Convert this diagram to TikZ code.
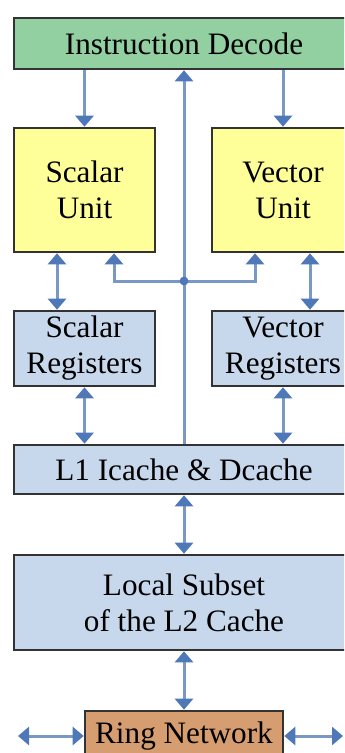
\documentclass[tikz,border=0pt]{standalone}
\usepackage{fontspec}
\setmainfont{Liberation Serif}
\usetikzlibrary{arrows.meta}
\definecolor{decode}{RGB}{146,208,162}
\definecolor{unitfill}{RGB}{255,255,153}
\definecolor{regfill}{RGB}{200,216,236}
\definecolor{ringfill}{RGB}{214,158,112}
\definecolor{wire}{RGB}{122,152,198}
\definecolor{tip}{RGB}{79,120,184}
\begin{document}
\begin{tikzpicture}[x=0.5pt,y=-0.5pt,
    box/.style={draw=black!80,line width=1.3pt,inner sep=0pt,align=center,
      font=\fontsize{15.6}{18}\selectfont},
    link/.style={draw=wire,line width=1.5pt},
    >={Triangle[width=9pt,length=5.5pt,color=tip]}]
  \useasboundingbox[fill=white] (0,0) rectangle (344,753);
  \clip (0,0) rectangle (344,753);
  \node[box,fill=decode,minimum width=170pt,minimum height=25.5pt] (dec) at (184,43.5) {Instruction Decode};
  \node[box,fill=unitfill,minimum width=70.5pt,minimum height=62pt] (su) at (84.5,190) {Scalar\\Unit};
  \node[box,fill=unitfill,minimum width=71pt,minimum height=62pt] (vu) at (283,190) {Vector\\Unit};
  \node[box,fill=regfill,minimum width=70.5pt,minimum height=37.5pt] (sr) at (84.5,348.5) {Scalar\\Registers};
  \node[box,fill=regfill,minimum width=71pt,minimum height=37.5pt] (vr) at (283,348.5) {Vector\\Registers};
  \node[box,fill=regfill,minimum width=170pt,minimum height=24.5pt] (l1) at (184,469.5) {L1 Icache \& Dcache};
  \node[box,fill=regfill,minimum width=170pt,minimum height=47.5pt] (l2) at (184,602.5) {Local Subset\\of the L2 Cache};
  \node[box,fill=ringfill,minimum width=99pt,minimum height=25pt] (ring) at (184,736) {Ring Network};
  \coordinate (hub) at (184,281);
  \coordinate (westring) at (18,736);
  \coordinate (eastring) at (343,736);
  \draw[link,->] (dec.south -| su.north) -- (su.north);
  \draw[link,->] (dec.south -| vu.north) -- (vu.north);
  \draw[link,->] (l1.north) -- (dec.south);
  \draw[link,->] (hub) -| ([xshift=14.75pt]su.south);
  \draw[link,->] (hub) -| ([xshift=-14pt]vu.south);
  \fill[tip] (hub) circle (2.2pt);
  \foreach \u/\r/\s in {su/sr/-13.75pt,vu/vr/13.5pt}
    \draw[link,<->] ([xshift=\s]\u.south) -- ([xshift=\s]\r.north);
  \foreach \r in {sr,vr}
    \draw[link,<->] (\r.south) -- (\r.south |- l1.north);
  \draw[link,<->] (l1.south) -- (l2.north);
  \draw[link,<->] (l2.south) -- (ring.north);
  \draw[link,<->] (westring) -- (ring.west);
  \draw[link,<->] (ring.east) -- (eastring);
\end{tikzpicture}
\end{document}
